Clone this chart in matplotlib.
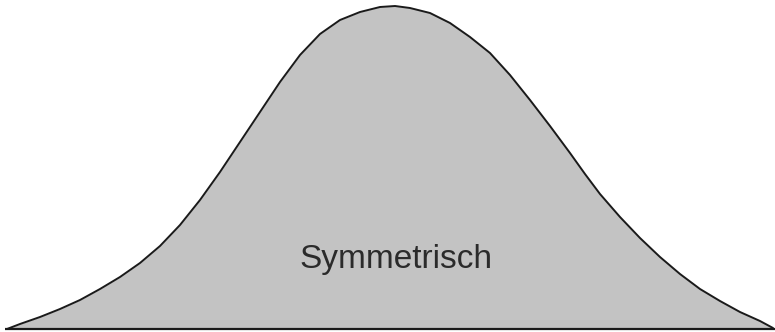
import matplotlib.pyplot as plt

# curve: horizontal position and height above the baseline
curve_x = [7, 20, 40, 60, 80, 100, 120, 140, 160, 180, 200, 220, 240, 260, 280,
           300, 320, 340, 360, 380, 395, 410, 430, 450, 470, 490, 510, 530, 550,
           570, 585, 600, 620, 640, 660, 680, 700, 720, 740, 760, 773]
curve_h = [0, 5, 12, 20, 29, 40, 52, 66, 83, 104, 129, 157, 187, 217, 247,
           274, 295, 309, 317, 322, 323, 321, 316, 306, 292, 276, 254, 229, 203,
           176, 155, 135, 112, 91, 72, 55, 40, 28, 17, 8, 1]
label = "Symmetrisch"

fig = plt.figure(figsize=(7.75, 3.32), dpi=100)
ax = fig.add_axes([0, 0, 1, 1])

ax.fill_between(curve_x, curve_h, 0, color="#c3c3c3", linewidth=0)
ax.plot(curve_x, curve_h, color="#1a1a1a", linewidth=1.4,
        solid_joinstyle="round", solid_capstyle="round")
ax.hlines(0, 5, 775, color="#1a1a1a", linewidth=1.6)

ax.text(396, 61, label, ha="center", va="baseline", fontsize=24,
        family="Liberation Sans", color="#2b2b2b")

ax.set_xlim(0, 775)
ax.set_ylim(-3, 329)
ax.axis("off")

fig.savefig("out.png", dpi=100)
